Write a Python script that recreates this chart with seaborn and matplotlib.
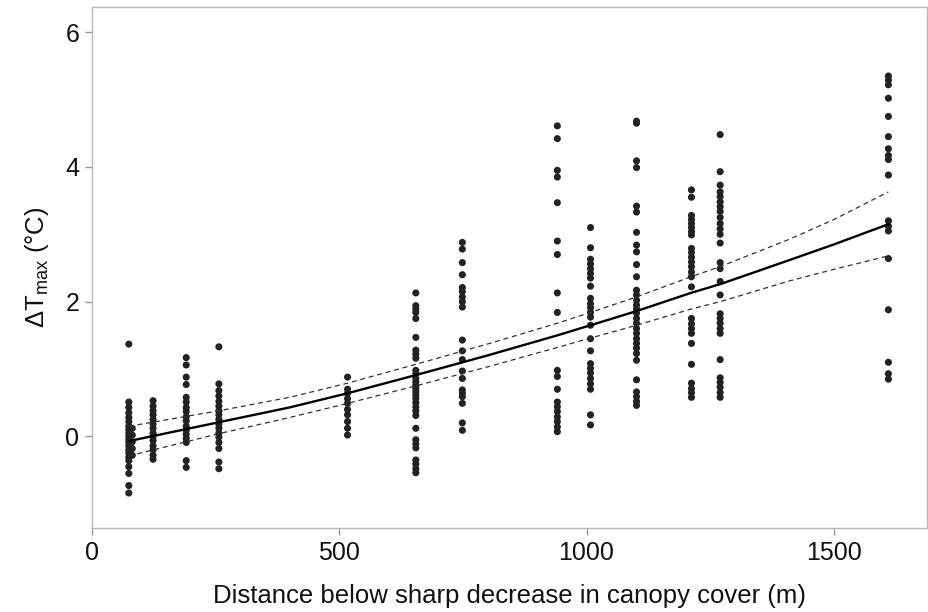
import numpy as np
import pandas as pd
import matplotlib
matplotlib.use("Agg")
import matplotlib.pyplot as plt
import seaborn as sns

# ---- data ----
dT_75 = [1.37, 0.51, 0.43, 0.35, 0.28, 0.22, 0.15, 0.10, 0.05, 0.00, -0.05, -0.09,
         -0.14, -0.20, -0.25, -0.31, -0.36, -0.45, -0.55, -0.73, -0.84]
dT_82 = [0.12, 0.02, -0.08, -0.18, -0.28]
dT_124 = [0.53, 0.45, 0.38, 0.32, 0.25, 0.18, 0.12, 0.05, 0.00, -0.06, -0.14, -0.20,
          -0.28, -0.34]
dT_191 = [1.17, 1.06, 0.88, 0.77, 0.58, 0.51, 0.43, 0.37, 0.29, 0.23, 0.15, 0.09,
          0.03, -0.03, -0.09, -0.36, -0.46]
dT_257 = [1.33, 0.78, 0.68, 0.60, 0.52, 0.45, 0.38, 0.32, 0.25, 0.18, 0.12, 0.05,
          -0.01, -0.09, -0.18, -0.38, -0.48]
dT_517 = [0.88, 0.70, 0.64, 0.56, 0.49, 0.40, 0.32, 0.22, 0.12, 0.02]
dT_655 = [2.13, 1.94, 1.89, 1.84, 1.75, 1.47, 1.28, 1.22, 1.16, 0.98, 0.93, 0.86,
          0.81, 0.76, 0.71, 0.66, 0.61, 0.56, 0.50, 0.44, 0.38, 0.31, 0.12, -0.05,
          -0.11, -0.17, -0.35, -0.41, -0.48, -0.54]
dT_749 = [2.88, 2.78, 2.58, 2.40, 2.21, 2.15, 2.07, 2.00, 1.92, 1.43, 1.27, 1.14,
          0.97, 0.86, 0.69, 0.64, 0.59, 0.49, 0.20, 0.09]
dT_941 = [4.61, 4.42, 3.95, 3.85, 3.47, 2.90, 2.70, 2.13, 1.84, 0.98, 0.89, 0.70,
          0.51, 0.44, 0.37, 0.29, 0.22, 0.14, 0.07]
dT_1008 = [3.10, 2.80, 2.63, 2.56, 2.49, 2.42, 2.35, 2.23, 2.05, 1.97, 1.91, 1.84,
           1.77, 1.65, 1.45, 1.27, 1.08, 1.01, 0.94, 0.86, 0.78, 0.70, 0.32, 0.17]
dT_1101 = [4.68, 4.65, 4.09, 3.99, 3.42, 3.33, 3.03, 2.84, 2.74, 2.55, 2.37, 2.17,
           2.10, 2.02, 1.95, 1.89, 1.83, 1.75, 1.68, 1.60, 1.53, 1.45, 1.38, 1.31,
           1.23, 1.13, 0.84, 0.66, 0.59, 0.52, 0.46]
dT_1212 = [3.66, 3.55, 3.28, 3.22, 3.16, 3.10, 3.04, 2.99, 2.79, 2.73, 2.66, 2.59,
           2.52, 2.44, 2.37, 2.22, 1.75, 1.67, 1.60, 1.53, 1.38, 1.07, 0.79, 0.71,
           0.65, 0.58]
dT_1270 = [4.48, 3.93, 3.73, 3.63, 3.56, 3.48, 3.41, 3.34, 3.25, 3.16, 3.08, 3.00,
           2.87, 2.58, 2.49, 2.30, 2.10, 1.82, 1.75, 1.68, 1.60, 1.53, 1.14, 0.87,
           0.80, 0.73, 0.65, 0.58]
dT_1610 = [5.35, 5.29, 5.22, 5.02, 4.75, 4.45, 4.27, 4.17, 4.11, 3.88, 3.20, 3.12,
           3.05, 2.64, 1.88, 1.10, 0.93, 0.85]

distances = [75, 82, 124, 191, 257, 517, 655, 749, 941, 1008, 1101, 1212, 1270, 1610]
columns = [dT_75, dT_82, dT_124, dT_191, dT_257, dT_517, dT_655, dT_749, dT_941,
           dT_1008, dT_1101, dT_1212, dT_1270, dT_1610]

# fitted curve and confidence limits
fit_x = [75, 257, 400, 517, 655, 804, 941, 1008, 1101, 1211, 1270, 1411, 1500, 1610]
fit_y = [-0.07, 0.21, 0.43, 0.64, 0.91, 1.21, 1.50, 1.65, 1.86, 2.13, 2.26, 2.62, 2.85, 3.15]
fit_lo = [-0.29, 0.04, 0.28, 0.49, 0.75, 1.04, 1.32, 1.46, 1.65, 1.89, 2.00, 2.31, 2.48, 2.68]
fit_hi = [0.15, 0.38, 0.58, 0.79, 1.07, 1.38, 1.68, 1.84, 2.07, 2.37, 2.52, 2.93, 3.22, 3.63]

xticks = [0, 500, 1000, 1500]
yticks = [0, 2, 4, 6]

# ---- build table ----
pts = pd.DataFrame({
    "distance": np.concatenate([[d] * len(v) for d, v in zip(distances, columns)]),
    "dT": np.concatenate(columns),
})
fit = pd.DataFrame({"x": fit_x, "y": fit_y, "lo": fit_lo, "hi": fit_hi})

sns.set_theme(style="white")
plt.rcParams["font.family"] = ["Liberation Sans", "DejaVu Sans"]
plt.rcParams["mathtext.fontset"] = "custom"
plt.rcParams["mathtext.rm"] = "Liberation Sans"
plt.rcParams["mathtext.it"] = "Liberation Sans"

fig = plt.figure(figsize=(9.29, 6.12), dpi=100)
ax = fig.add_axes([91.7 / 929, 1 - 528 / 612, (927 - 91.7) / 929, (528 - 7.3) / 612])

sns.scatterplot(data=pts, x="distance", y="dT", ax=ax, color="#222222", s=26,
                edgecolor="none", linewidth=0, legend=False, zorder=3)
sns.lineplot(data=fit, x="x", y="y", ax=ax, color="black", linewidth=1.7,
             zorder=4, estimator=None)
for col in ["lo", "hi"]:
    sns.lineplot(data=fit, x="x", y=col, ax=ax, color="#333333", linewidth=0.9,
                 zorder=4, estimator=None)
    ax.lines[-1].set_linestyle((0, (4, 3)))

ax.set_xlim(0, 1688)
ax.set_ylim(-1.36, 6.37)
ax.set_xticks(xticks)
ax.set_yticks(yticks)
ax.set_xticklabels([str(t) for t in xticks])
ax.set_yticklabels([str(t) for t in yticks])

for sp in ax.spines.values():
    sp.set_color("#b8b8b8")
    sp.set_linewidth(1.0)
    sp.set_visible(True)
ax.tick_params(axis="both", which="major", direction="out", length=5, width=1,
               color="#999999", labelsize=18, labelcolor="#111111", pad=4,
               bottom=True, left=True)

ax.set_xlabel("Distance below sharp decrease in canopy cover (m)", fontsize=18.5,
              color="#111111", labelpad=14)
ax.set_ylabel(r"ΔT$_{\mathrm{max}}$ (°C)", fontsize=18.5, color="#111111", labelpad=10)

fig.savefig("out.png", dpi=100)
